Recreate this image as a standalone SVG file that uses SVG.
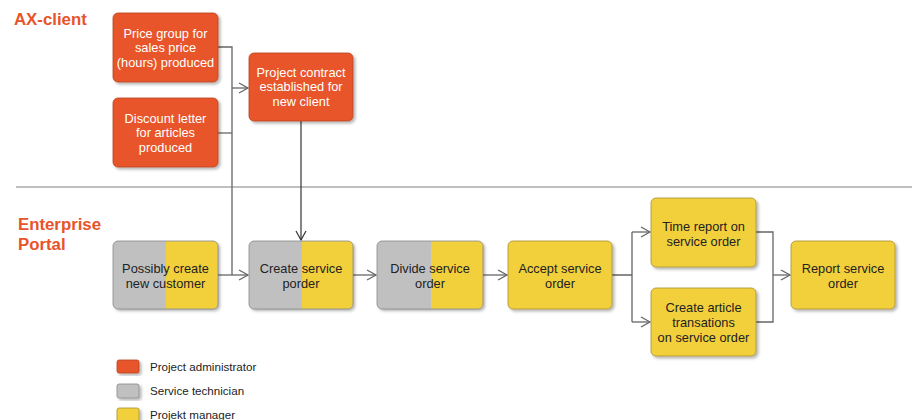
<svg xmlns="http://www.w3.org/2000/svg" width="914" height="420" viewBox="0 0 914 420">
<style>
.t{font-family:"Liberation Sans",Arial,sans-serif;font-size:12.8px;text-anchor:middle;fill:#222}
.w{fill:#ffffff}
.h{font-family:"Liberation Sans",Arial,sans-serif;font-size:16.8px;font-weight:bold;fill:#E8542A}
.lg{font-family:"Liberation Sans",Arial,sans-serif;font-size:11.6px;fill:#222}
.or{fill:#E8542A;stroke:#B9441F;stroke-width:0.8}
.ye{fill:#F2D03B}
.gr{fill:#C0C0C0}
.bd{fill:none;stroke:#8a8a8a;stroke-width:0.8}
.c{fill:none;stroke:#666;stroke-width:1.3}
.k{fill:none;stroke:#333;stroke-width:1.2}
</style>
<defs>
<filter id="sh" x="-10%" y="-10%" width="130%" height="130%">
<feDropShadow dx="2" dy="2" stdDeviation="1.5" flood-color="#000" flood-opacity="0.3"/>
</filter>
<marker id="a" markerWidth="12" markerHeight="12" refX="10" refY="6" orient="auto" markerUnits="userSpaceOnUse">
<path d="M1,1 L10,6 L1,11" fill="none" stroke="#666" stroke-width="1.3"/>
</marker>
<marker id="ak" markerWidth="12" markerHeight="12" refX="10" refY="6" orient="auto" markerUnits="userSpaceOnUse">
<path d="M1,1 L10,6 L1,11" fill="none" stroke="#333" stroke-width="1.2"/>
</marker>
<clipPath id="c1"><rect x="113" y="241" width="105" height="68" rx="5"/></clipPath>
<clipPath id="c2"><rect x="249" y="241" width="104" height="68" rx="5"/></clipPath>
<clipPath id="c3"><rect x="377" y="241" width="106" height="68" rx="5"/></clipPath>
</defs>
<rect width="914" height="420" fill="#ffffff"/>
<text class="h" x="14" y="25">AX-client</text>
<text class="h" x="18" y="230">Enterprise</text>
<text class="h" x="18" y="250">Portal</text>
<line x1="16" y1="187" x2="912" y2="187" stroke="#aaa" stroke-width="1.3"/>
<g id="connectors">
<path class="c" d="M218,47 H232 V275"/>
<path class="c" d="M218,133 H232"/>
<path class="c" d="M232,88 H248" marker-end="url(#a)"/>
<path class="c" d="M218,275 H248" marker-end="url(#a)"/>
<path class="k" d="M301,121 V240" marker-end="url(#ak)"/>
<path class="c" d="M353,275 H376" marker-end="url(#a)"/>
<path class="c" d="M483,275 H507" marker-end="url(#a)"/>
<path class="c" d="M612,275 H632 M632,232 V322"/>
<path class="c" d="M632,232 H650" marker-end="url(#a)"/>
<path class="c" d="M632,322 H650" marker-end="url(#a)"/>
<path class="c" d="M756,232 H773 V322 H756"/>
<path class="c" d="M773,275 H790" marker-end="url(#a)"/>
</g>
<g id="price-group">
<rect class="or" x="113" y="13" width="105" height="69" rx="5" filter="url(#sh)"/>
<text class="t w" x="165.5" y="37.5">Price group for</text>
<text class="t w" x="165.5" y="52">sales price</text>
<text class="t w" x="165.5" y="66.5">(hours) produced</text>
</g>
<g id="discount-letter">
<rect class="or" x="113" y="98" width="105" height="69" rx="5" filter="url(#sh)"/>
<text class="t w" x="165.5" y="122.5">Discount letter</text>
<text class="t w" x="165.5" y="137">for articles</text>
<text class="t w" x="165.5" y="151.5">produced</text>
</g>
<g id="project-contract">
<rect class="or" x="249" y="53" width="104" height="68" rx="5" filter="url(#sh)"/>
<text class="t w" x="301" y="76.5">Project contract</text>
<text class="t w" x="301" y="91">established for</text>
<text class="t w" x="301" y="105.5">new client</text>
</g>
<g id="possibly-create">
<g filter="url(#sh)"><g clip-path="url(#c1)">
<rect class="gr" x="113" y="241" width="53" height="68"/>
<rect class="ye" x="166" y="241" width="52" height="68"/>
</g></g>
<rect class="bd" x="113" y="241" width="105" height="68" rx="5"/>
<text class="t" x="165.5" y="272.5">Possibly create</text>
<text class="t" x="165.5" y="287.5">new customer</text>
</g>
<g id="create-service">
<g filter="url(#sh)"><g clip-path="url(#c2)">
<rect class="gr" x="249" y="241" width="53" height="68"/>
<rect class="ye" x="302" y="241" width="51" height="68"/>
</g></g>
<rect class="bd" x="249" y="241" width="104" height="68" rx="5"/>
<text class="t" x="301" y="272.5">Create service</text>
<text class="t" x="301" y="287.5">porder</text>
</g>
<g id="divide-service">
<g filter="url(#sh)"><g clip-path="url(#c3)">
<rect class="gr" x="377" y="241" width="54" height="68"/>
<rect class="ye" x="431" y="241" width="52" height="68"/>
</g></g>
<rect class="bd" x="377" y="241" width="106" height="68" rx="5"/>
<text class="t" x="430" y="272.5">Divide service</text>
<text class="t" x="430" y="287.5">order</text>
</g>
<g id="accept-service">
<rect class="ye" x="508" y="241" width="104" height="68" rx="5" stroke="#a89030" stroke-width="0.8" filter="url(#sh)"/>
<text class="t" x="560" y="272.5">Accept service</text>
<text class="t" x="560" y="287.5">order</text>
</g>
<g id="time-report">
<rect class="ye" x="651" y="198" width="105" height="69" rx="5" stroke="#a89030" stroke-width="0.8" filter="url(#sh)"/>
<text class="t" x="703.5" y="230.5">Time report on</text>
<text class="t" x="703.5" y="245.5">service order</text>
</g>
<g id="create-article">
<rect class="ye" x="651" y="288" width="105" height="68" rx="5" stroke="#a89030" stroke-width="0.8" filter="url(#sh)"/>
<text class="t" x="703.5" y="311.5">Create article</text>
<text class="t" x="703.5" y="326.5">transations</text>
<text class="t" x="703.5" y="341.5">on service order</text>
</g>
<g id="report-service">
<rect class="ye" x="791" y="241" width="104" height="68" rx="5" stroke="#a89030" stroke-width="0.8" filter="url(#sh)"/>
<text class="t" x="843" y="272.5">Report service</text>
<text class="t" x="843" y="287.5">order</text>
</g>
<g id="legend">
<rect class="or" x="117" y="360" width="22" height="13" rx="2" filter="url(#sh)"/>
<text class="lg" x="150" y="371">Project administrator</text>
<rect class="gr" x="117" y="384" width="22" height="14" rx="2" stroke="#8a8a8a" stroke-width="0.8" filter="url(#sh)"/>
<text class="lg" x="150" y="395">Service technician</text>
<rect class="ye" x="117" y="408" width="22" height="14" rx="2" stroke="#a89030" stroke-width="0.8" filter="url(#sh)"/>
<text class="lg" x="150" y="419">Projekt manager</text>
</g>
</svg>
